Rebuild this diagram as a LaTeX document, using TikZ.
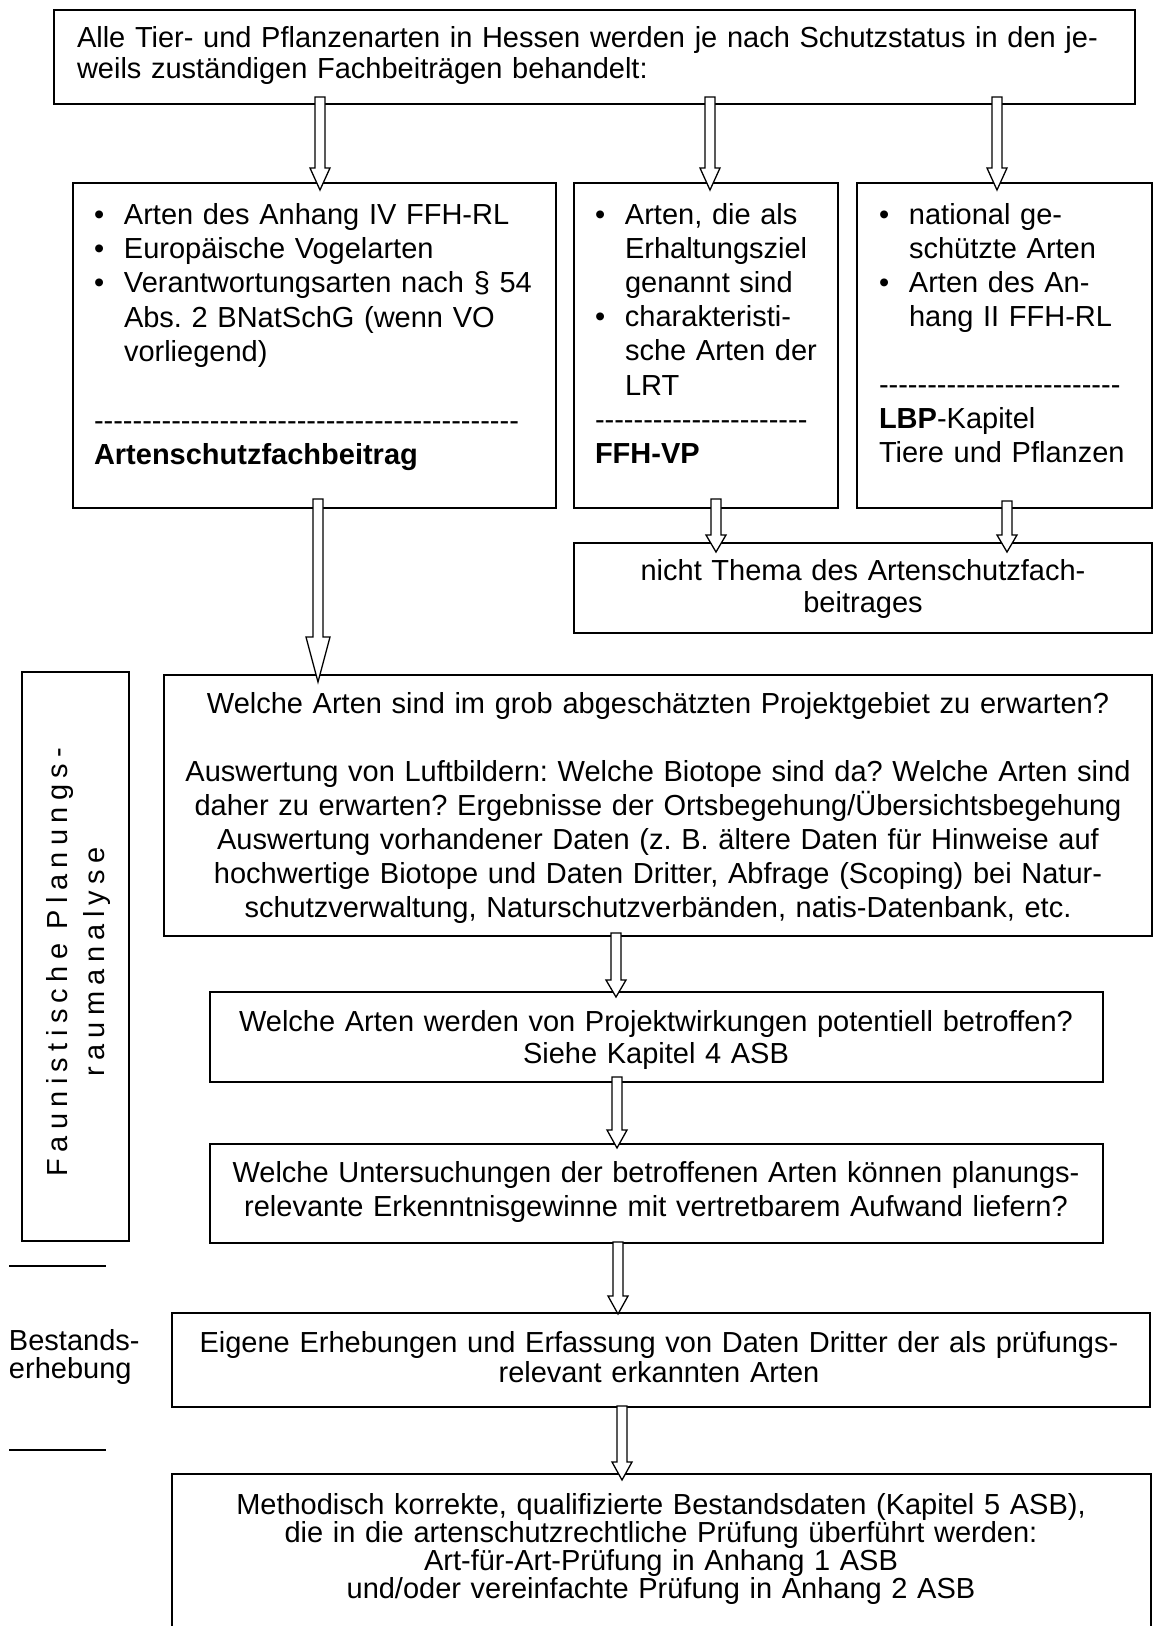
\documentclass[tikz,border=0pt]{standalone}
\usepackage{fontspec}
\setmainfont{Liberation Sans}
\newfontfamily\spacedfont[LetterSpace=22]{Liberation Sans}
\usetikzlibrary{calc}
\frenchspacing
\newcommand\bul{\makebox[30pt][l]{\textbullet}}
\newcommand\ind{\hspace*{30pt}}
\newcommand\hyph[1]{\foreach \i in {1,...,#1}{-\kern0pt}}
\newcommand\blockarrow[7]{%
  \draw[blk] ($(#1,0 |- #2.south)+(-5,-#4)$) -- ($(#1,0 |- #3.north)+(-5,#5-#6)$) -- ++(5-#7,0)
    -- ($(#1,0 |- #3.north)+(0,#5)$) -- ($(#1,0 |- #3.north)+(#7,#5-#6)$) -- ++(5-#7,0)
    -- ($(#1,0 |- #2.south)+(5,-#4)$) -- cycle;}
\tikzset{
  box/.style={draw, line width=1.8pt, rectangle, inner sep=0pt, outer sep=0pt, anchor=north west},
  txt/.style={inner sep=0pt, outer sep=0pt},
  blk/.style={draw, line width=1.3pt, fill=white, line join=miter},
  sepline/.style={line width=1.2pt},
}
\begin{document}
\begin{tikzpicture}[x=1pt,y=-1pt]
\clip (0,0) rectangle (1154,1626);
\fill[white] (0,0) rectangle (1154,1626);

% boxes
\node[box, minimum width=1081pt, minimum height=94pt] (T) at (54,10) {};
\node[box, minimum width=483pt, minimum height=325pt] (A) at (73,183) {};
\node[box, minimum width=264pt, minimum height=325pt] (B) at (574,183) {};
\node[box, minimum width=295pt, minimum height=325pt] (C) at (857,183) {};
\node[box, minimum width=578pt, minimum height=90pt] (D) at (574,543) {};
\node[box, minimum width=988pt, minimum height=261pt] (E) at (164,675) {};
\node[box, minimum width=893pt, minimum height=90pt] (F) at (210,992) {};
\node[box, minimum width=893pt, minimum height=99pt] (G) at (210,1144) {};
\node[box, minimum width=978pt, minimum height=94pt] (H) at (172,1313) {};
\node[box, minimum width=979pt, minimum height=220pt] (I) at (172,1474) {};
\node[box, minimum width=107pt, minimum height=569pt] (L) at (22,672) {};

% texts
\node[txt, anchor=base west, text width=1040pt, align=left, font=\fontsize{29}{31}\selectfont] (Tt) at (77,47)
  {\makebox[1037pt][s]{Alle Tier- und Pflanzenarten in Hessen werden je nach Schutzstatus in den je-}\\weils zuständigen Fachbeiträgen behandelt:};

\node[txt, anchor=base west, text width=470pt, align=left, font=\fontsize{29}{34.4}\selectfont] (At) at (94,224)
  {\bul Arten des Anhang IV FFH-RL\\
   \bul Europäische Vogelarten\\
   \bul Verantwortungsarten nach § 54\\
   \ind Abs. 2 BNatSchG (wenn VO\\
   \ind vorliegend)\\
   \mbox{}\\
   \hyph{44}\\
   \textbf{Artenschutzfachbeitrag}};

\node[txt, anchor=base west, text width=250pt, align=left, font=\fontsize{29}{34.2}\selectfont] (Bt) at (595,224)
  {\bul Arten, die als\\
   \ind Erhaltungsziel\\
   \ind genannt sind\\
   \bul charakteristi-\\
   \ind sche Arten der\\
   \ind LRT\\
   \hyph{22}\\
   \textbf{FFH-VP}};

\node[txt, anchor=base west, text width=270pt, align=left, font=\fontsize{29}{34}\selectfont] (Ct) at (879,224)
  {\bul national ge-\\
   \ind schützte Arten\\
   \bul Arten des An-\\
   \ind hang II FFH-RL\\
   \mbox{}\\
   \hyph{25}\\
   \textbf{LBP}-Kapitel\\
   Tiere und Pflanzen};

\node[txt, anchor=base, text width=560pt, align=center, font=\fontsize{29}{32}\selectfont] (Dt) at (863,580)
  {nicht Thema des Artenschutzfach-\\beitrages};

\node[txt, anchor=base, text width=1000pt, align=center, font=\fontsize{29}{34}\selectfont] (Et) at (658,713)
  {Welche Arten sind im grob abgeschätzten Projektgebiet zu erwarten?\\
   \mbox{}\\
   Auswertung von Luftbildern: Welche Biotope sind da? Welche Arten sind\\
   daher zu erwarten? Ergebnisse der Ortsbegehung/Übersichtsbegehung\\
   Auswertung vorhandener Daten (z. B. ältere Daten für Hinweise auf\\
   hochwertige Biotope und Daten Dritter, Abfrage (Scoping) bei Natur-\\
   schutzverwaltung, Naturschutzverbänden, natis-Datenbank, etc.};

\node[txt, anchor=base, text width=890pt, align=center, font=\fontsize{29}{32}\selectfont] (Ft) at (656,1031)
  {Welche Arten werden von Projektwirkungen potentiell betroffen?\\Siehe Kapitel 4 ASB};

\node[txt, anchor=base, text width=890pt, align=center, font=\fontsize{29}{34}\selectfont] (Gt) at (656,1182)
  {Welche Untersuchungen der betroffenen Arten können planungs-\\relevante Erkenntnisgewinne mit vertretbarem Aufwand liefern?};

\node[txt, anchor=base, text width=970pt, align=center, font=\fontsize{29}{30}\selectfont] (Ht) at (659,1352)
  {Eigene Erhebungen und Erfassung von Daten Dritter der als prüfungs-\\relevant erkannten Arten};

\node[txt, anchor=base, text width=970pt, align=center, font=\fontsize{29}{27}\selectfont] (It) at (661,1514)
  {Methodisch korrekte, qualifizierte Bestandsdaten (Kapitel 5 ASB),\\
   die in die artenschutzrechtliche Prüfung überführt werden:\\
   Art-für-Art-Prüfung in Anhang 1 ASB\\
   und/oder vereinfachte Prüfung in Anhang 2 ASB};

\node[txt, rotate=90, align=center, font=\spacedfont\fontsize{29}{37}\selectfont] (Lt) at (79,962)
  {Faunistische Planungs-\\raumanalyse};

\node[txt, anchor=base west, text width=150pt, align=left, font=\fontsize{29}{28}\selectfont] (St) at (9,1350)
  {Bestands-\\erhebung};

\draw[sepline] (9,1266) coordinate (s1a) -- (106,1266) coordinate (s1b);
\draw[sepline] (9,1450) coordinate (s2a) -- (106,1450) coordinate (s2b);

% block arrows
\blockarrow{320}{T}{A}{7}{7}{22}{10}
\blockarrow{710}{T}{B}{7}{7}{22}{10}
\blockarrow{997}{T}{C}{7}{7}{22}{10}
\blockarrow{716}{B}{D}{9}{9}{17}{10}
\blockarrow{1007}{C}{D}{7}{9}{17}{10}
\blockarrow{318}{A}{E}{9}{7}{45}{12}
\blockarrow{616}{E}{F}{3}{5}{17}{10}
\blockarrow{617}{F}{G}{5}{4}{18}{10}
\blockarrow{618}{G}{H}{1}{1}{18}{10}
\blockarrow{622}{H}{I}{1}{6}{18}{10}
\end{tikzpicture}
\end{document}
